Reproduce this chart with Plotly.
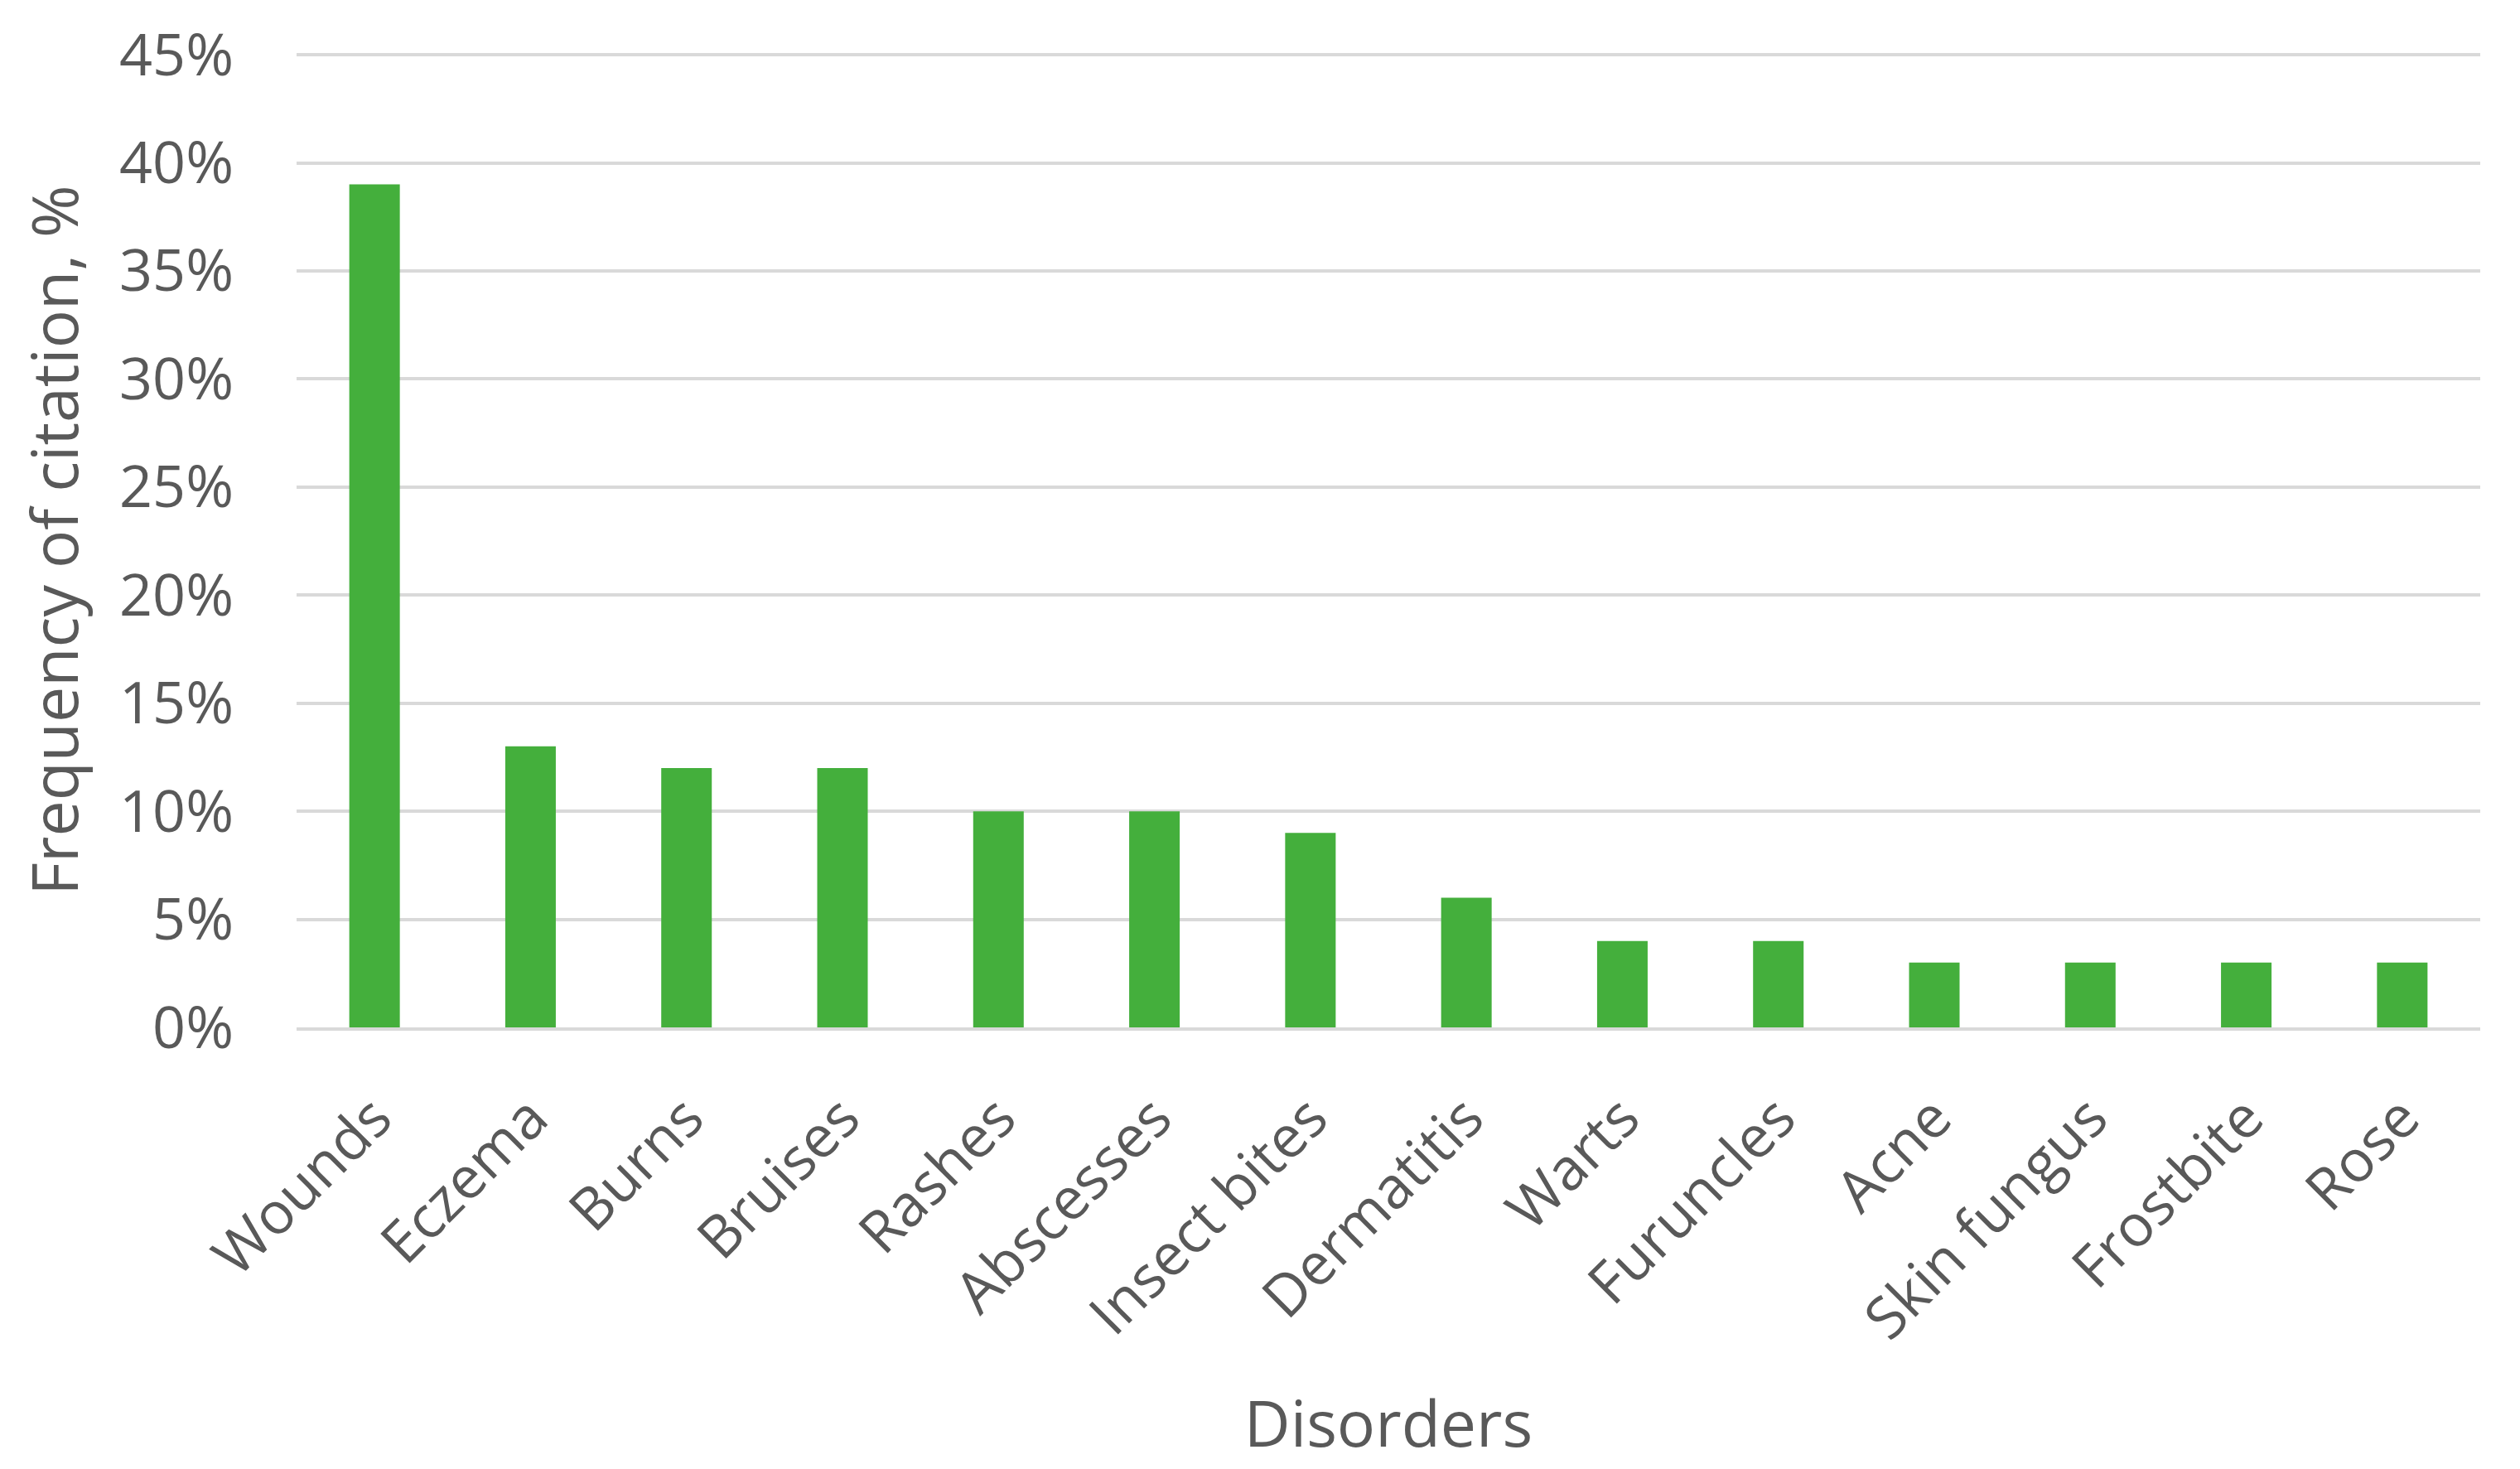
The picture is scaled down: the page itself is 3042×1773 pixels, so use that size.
import plotly.graph_objects as go

categories = ["Wounds", "Eczema", "Burns", "Bruises", "Rashes", "Abscesses", "Insect bites",
              "Dermatitis", "Warts", "Furuncles", "Acne", "Skin fungus", "Frostbite", "Rose"]
values = [39, 13, 12, 12, 10, 10, 9, 6, 4, 4, 3, 3, 3, 3]
y_ticks = [0, 5, 10, 15, 20, 25, 30, 35, 40, 45]

FONT = "Open Sans"
GREY = "#595959"

fig = go.Figure(go.Bar(x=categories, y=values, marker=dict(color="#44AF3C", line=dict(width=0))))

fig.update_layout(
    width=3042, height=1773,
    margin=dict(l=350, r=56, t=56, b=541, autoexpand=False),
    plot_bgcolor="white", paper_bgcolor="white",
    bargap=0.676,
    showlegend=False,
    font=dict(family=FONT, color=GREY, size=70),
)
fig.update_yaxes(
    range=[0, 45.08], tickvals=y_ticks, ticktext=[f"{v}%" for v in y_ticks],
    showgrid=True, gridcolor="#D9D9D9", gridwidth=4,
    zeroline=False, showline=False, ticks="",
    ticklabelstandoff=75,
    tickfont=dict(family=FONT, size=70, color=GREY),
    title=dict(text="Frequency of citation, %", font=dict(family=FONT, size=77, color=GREY), standoff=24),
    automargin=False,
)
fig.update_xaxes(
    showgrid=False, showline=True, linecolor="#D9D9D9", linewidth=4,
    ticks="", tickangle=-45,
    ticklabelstandoff=36,
    tickfont=dict(family=FONT, size=70, color=GREY),
    title=dict(text="Disorders", font=dict(family=FONT, size=77, color=GREY), standoff=58),
    automargin=False,
)

fig.write_html("out.html")
